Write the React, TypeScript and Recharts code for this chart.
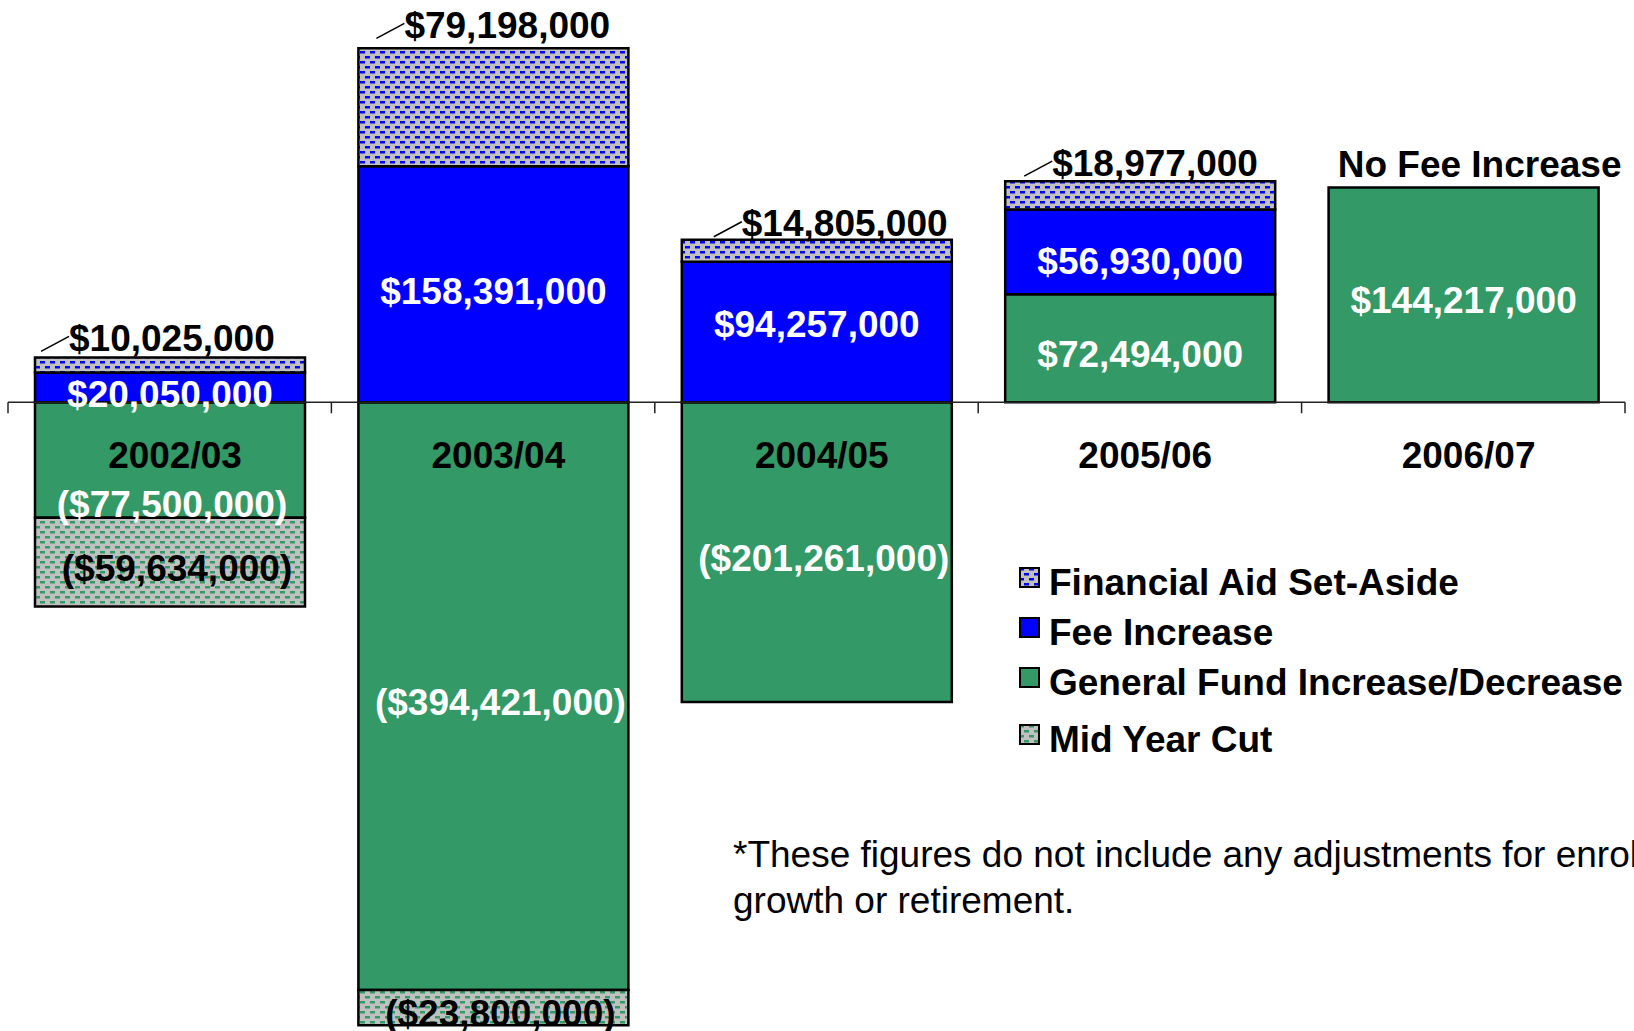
import React from "react";
import {
  ComposedChart,
  Bar,
  XAxis,
  YAxis,
  ReferenceLine,
  LabelList,
  Legend,
} from "recharts";

const CATEGORIES = ["2002/03", "2003/04", "2004/05", "2005/06", "2006/07"];
const GENERAL_FUND = [-77500000, -394421000, -201261000, 72494000, 144217000];
const FEE_INCREASE = [20050000, 158391000, 94257000, 56930000, 0];
const FINANCIAL_AID = [10025000, 79198000, 14805000, 18977000, 0];
const MID_YEAR_CUT = [-59634000, -23800000, 0, 0, 0];
const NOTES = ["", "", "", "", "No Fee Increase"];

const LEGEND_ORDER = [
  "Financial Aid Set-Aside",
  "Fee Increase",
  "General Fund Increase/Decrease",
  "Mid Year Cut",
];

// hand nudges of the labels, as placed in the original slide
const AID_LABEL_LEFT = [34, 46, 60, 47, 0];
const AID_LABEL_DY = [-19, -23, -16, -18, 0];
const FEE_LABEL_DY = [7, 7, -8, 10, 0];

const FONT = '"Liberation Sans", Arial, Helvetica, sans-serif';
const GREEN = "#339966";
const BLUE = "#0000FF";

const data = CATEGORIES.map((category, i) => ({
  category,
  generalFund: GENERAL_FUND[i],
  feeIncrease: FEE_INCREASE[i],
  financialAid: FINANCIAL_AID[i],
  midYearCut: MID_YEAR_CUT[i],
}));

const money = (v: number) => {
  const s = "$" + Math.abs(v).toLocaleString("en-US");
  return v < 0 ? `(${s})` : s;
};

const rectOf = (props: any) => {
  const vb = props.viewBox && typeof props.viewBox.x === "number" ? props.viewBox : props;
  const x = Number(vb.x);
  const y = Number(vb.y);
  const w = Number(vb.width);
  const h = Number(vb.height);
  return { x, w, top: Math.min(y, y + h), bottom: Math.max(y, y + h) };
};

const textStyle = {
  fontFamily: FONT,
  fontWeight: 700,
  fontSize: 37,
};

const renderGeneralFundLabel = (props: any) => {
  const v = Number(props.value);
  const idx = props.index;
  const r = rectOf(props);
  const cx = r.x + r.w / 2;
  const short = v < 0 && r.bottom - r.top < 150;
  const cy = short ? r.bottom - 13 : (r.top + r.bottom) / 2 + 6;
  const base = v >= 0 ? r.bottom : r.top;
  const note = NOTES[idx];
  return (
    <g>
      <text
        x={cx + (v < 0 ? (short ? 2 : 7) : 0)}
        y={cy}
        fill="#fff"
        textAnchor="middle"
        dominantBaseline="central"
        style={textStyle}
      >
        {money(v)}
      </text>
      <text x={cx + 5} y={base + 53} fill="#000" textAnchor="middle" dominantBaseline="central" style={textStyle}>
        {CATEGORIES[idx]}
      </text>
      {note ? (
        <text x={cx + 16} y={r.top - 23} fill="#000" textAnchor="middle" dominantBaseline="central" style={textStyle}>
          {note}
        </text>
      ) : null}
    </g>
  );
};

const renderFeeLabel = (props: any) => {
  const v = Number(props.value);
  if (!v) return null;
  const r = rectOf(props);
  return (
    <text
      x={r.x + r.w / 2}
      y={(r.top + r.bottom) / 2 + FEE_LABEL_DY[props.index]}
      fill="#fff"
      textAnchor="middle"
      dominantBaseline="central"
      style={textStyle}
    >
      {money(v)}
    </text>
  );
};

const renderAidLabel = (props: any) => {
  const v = Number(props.value);
  if (!v) return null;
  const r = rectOf(props);
  const left = r.x + AID_LABEL_LEFT[props.index];
  const ty = r.top + AID_LABEL_DY[props.index];
  return (
    <g>
      <line x1={left - 28} y1={ty + 13} x2={left} y2={ty - 2} stroke="#000" strokeWidth={1.5} />
      <text x={left} y={ty} fill="#000" textAnchor="start" dominantBaseline="central" style={textStyle}>
        {money(v)}
      </text>
    </g>
  );
};

const renderMidYearLabel = (props: any) => {
  const v = Number(props.value);
  if (!v) return null;
  const r = rectOf(props);
  return (
    <text
      x={r.x + r.w / 2 + 7}
      y={(r.top + r.bottom) / 2 + 6}
      fill="#000"
      textAnchor="middle"
      dominantBaseline="central"
      style={textStyle}
    >
      {money(v)}
    </text>
  );
};

// zero line with tick marks on the category boundaries
const ZeroAxis = (props: any) => {
  const { x1, x2, y1 } = props;
  const step = (x2 - x1) / CATEGORIES.length;
  const ticks = [];
  for (let i = 0; i <= CATEGORIES.length; i++) {
    const tx = x1 + i * step;
    ticks.push(<line key={i} x1={tx} y1={y1} x2={tx} y2={y1 + 11} stroke="#222" strokeWidth={1.5} />);
  }
  return (
    <g>
      <line x1={x1} y1={y1} x2={x2} y2={y1} stroke="#222" strokeWidth={1.5} />
      {ticks}
    </g>
  );
};

const renderLegend = (props: any) => {
  const items = [...(props.payload ?? [])].sort(
    (a: any, b: any) => LEGEND_ORDER.indexOf(a.value) - LEGEND_ORDER.indexOf(b.value)
  );
  return (
    <div style={{ fontFamily: FONT, fontWeight: 700, fontSize: 37, color: "#000" }}>
      {items.map((item: any, i: number) => (
        <div
          key={item.value}
          style={{
            display: "flex",
            alignItems: "center",
            height: 50,
            lineHeight: "50px",
            marginTop: i === 3 ? 7 : 0,
            whiteSpace: "nowrap",
          }}
        >
          <svg width={22} height={22} style={{ marginRight: 8, marginTop: -10 }}>
            <rect x={1} y={1} width={19} height={19} fill={item.color} stroke="#000" strokeWidth={2} />
          </svg>
          <span>{item.value}</span>
        </div>
      ))}
    </div>
  );
};

const App: React.FC = () => {
  return (
    <div
      style={{
        position: "absolute",
        left: 0,
        top: 0,
        width: 1634,
        height: 1031,
        overflow: "hidden",
        background: "#fff",
        fontFamily: FONT,
      }}
    >
      <ComposedChart
        width={1634}
        height={1031}
        data={data}
        stackOffset="sign"
        margin={{ top: 0, right: 9, bottom: 0, left: 8 }}
      >
        <defs>
          <pattern id="aidPattern" patternUnits="userSpaceOnUse" width={10} height={10}>
            <rect width={10} height={10} fill="#C0C0C0" />
            <rect x={0} y={1} width={5} height={2.5} fill={BLUE} />
            <rect x={5} y={6} width={5} height={2.5} fill={BLUE} />
          </pattern>
          <pattern id="midYearPattern" patternUnits="userSpaceOnUse" width={10} height={10}>
            <rect width={10} height={10} fill="#C0C0C0" />
            <rect x={0} y={1} width={5} height={2.5} fill={GREEN} />
            <rect x={5} y={6} width={5} height={2.5} fill={GREEN} />
          </pattern>
        </defs>
        <XAxis dataKey="category" hide />
        <YAxis hide domain={[-422000000, 270000000]} allowDataOverflow />
        <ReferenceLine y={0} shape={ZeroAxis} />
        <Bar
          dataKey="generalFund"
          name="General Fund Increase/Decrease"
          stackId="a"
          fill={GREEN}
          stroke="#000"
          strokeWidth={2.5}
          barSize={270}
          isAnimationActive={false}
        >
          <LabelList dataKey="generalFund" content={renderGeneralFundLabel} />
        </Bar>
        <Bar
          dataKey="feeIncrease"
          name="Fee Increase"
          stackId="a"
          fill={BLUE}
          stroke="#000"
          strokeWidth={2.5}
          barSize={270}
          isAnimationActive={false}
        >
          <LabelList dataKey="feeIncrease" content={renderFeeLabel} />
        </Bar>
        <Bar
          dataKey="financialAid"
          name="Financial Aid Set-Aside"
          stackId="a"
          fill="url(#aidPattern)"
          stroke="#000"
          strokeWidth={2.5}
          barSize={270}
          isAnimationActive={false}
        >
          <LabelList dataKey="financialAid" content={renderAidLabel} />
        </Bar>
        <Bar
          dataKey="midYearCut"
          name="Mid Year Cut"
          stackId="a"
          fill="url(#midYearPattern)"
          stroke="#000"
          strokeWidth={2.5}
          barSize={270}
          isAnimationActive={false}
        >
          <LabelList dataKey="midYearCut" content={renderMidYearLabel} />
        </Bar>
        <Legend
          layout="vertical"
          align="center"
          verticalAlign="middle"
          content={renderLegend}
          wrapperStyle={{ position: "absolute", left: 1019, top: 558, width: 614, height: "auto" }}
        />
      </ComposedChart>
      <div
        style={{
          position: "absolute",
          left: 733,
          top: 832,
          fontSize: 37,
          lineHeight: "46px",
          whiteSpace: "nowrap",
          color: "#000",
        }}
      >
        *These figures do not include any adjustments for enrollment
        <br />
        growth or retirement.
      </div>
    </div>
  );
};

export default App;
